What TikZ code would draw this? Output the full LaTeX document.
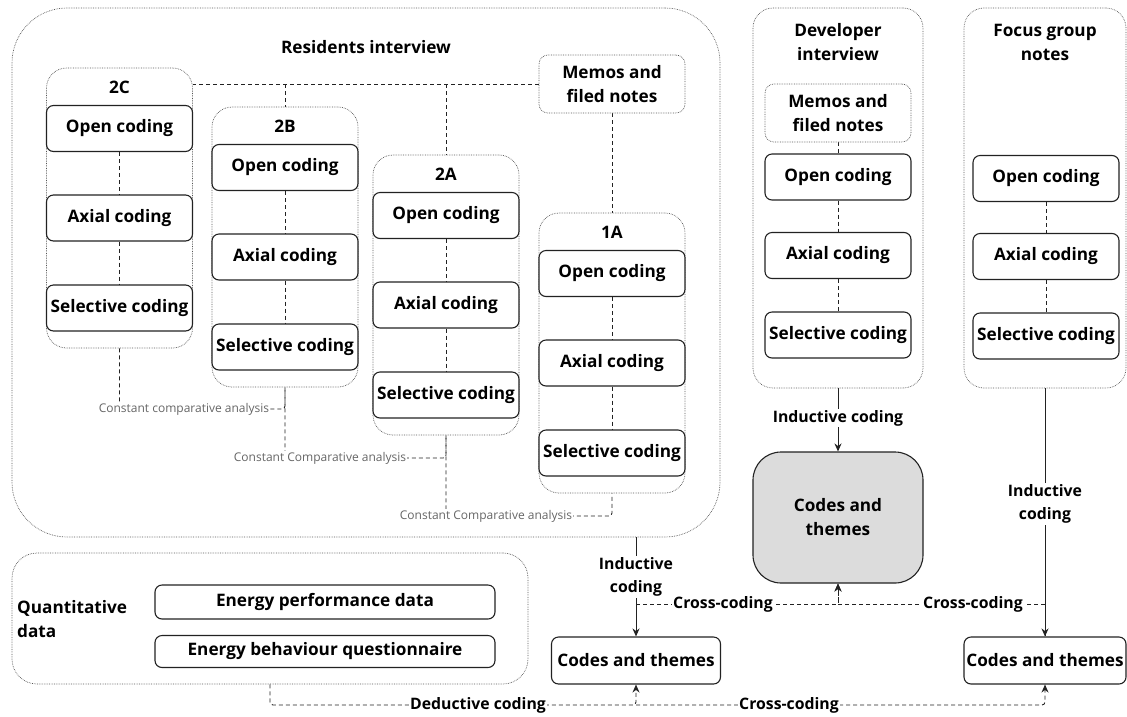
\documentclass[tikz,border=0pt]{standalone}
\usepackage{fontspec}
\setmainfont{Open Sans}
\usetikzlibrary{arrows.meta,calc}
\pgfdeclarelayer{bg}
\pgfsetlayers{bg,main}
\definecolor{grpc}{HTML}{555555}
\definecolor{lnc}{HTML}{222222}
\definecolor{lblc}{HTML}{666666}
\definecolor{greyfill}{HTML}{DCDCDC}
\tikzset{
  bigfont/.style={font=\bfseries\fontsize{17.2}{24}\selectfont},
  grp/.style={draw=grpc, line width=0.7pt, densely dotted, rounded corners=20pt, inner sep=0pt},
  memo/.style={draw=grpc, line width=0.7pt, densely dotted, rounded corners=9pt, fill=white, inner sep=0pt,
    minimum width=146pt, minimum height=58pt, align=center, bigfont},
  box/.style={draw=lnc, line width=1.1pt, rounded corners=7pt, fill=white, inner sep=0pt,
    minimum width=146pt, minimum height=46pt, align=center, bigfont},
  ttl/.style={inner sep=0pt, align=center, bigfont},
  dline/.style={draw=lnc, line width=0.9pt, dash pattern=on 4pt off 3pt},
  sline/.style={draw=lnc, line width=1pt},
  tip/.style={-{Stealth[length=8pt,width=7pt]}},
  lab/.style={fill=white, inner sep=1.5pt, align=center, font=\bfseries\fontsize{15.8}{23}\selectfont},
  cca/.style={fill=white, inner sep=1pt, text=lblc, font=\fontsize{12}{14}\selectfont},
}
\begin{document}
\begin{tikzpicture}[x=1pt,y=-1pt]
\useasboundingbox (0,0) rectangle (1127,716);
% ---------- Residents interview ----------
\node[grp, rounded corners=55pt, minimum width=708pt, minimum height=529pt] (res) at (366,272.5) {};
\node[ttl] (tres) at (366,47) {Residents interview};
\node[memo] (mR) at (612,84) {Memos and\\filed notes};
% 2C
\node[grp, minimum width=146pt, minimum height=280pt] (g2C) at (119.5,208) {};
\node[ttl] (t2C) at (119.5,87) {2C};
\node[box] (o2C) at (119.5,128.5) {Open coding};
\node[box] (a2C) at (119.5,218) {Axial coding};
\node[box] (s2C) at (119.5,308) {Selective coding};
% 2B
\node[grp, minimum width=146pt, minimum height=280pt] (g2B) at (285,247) {};
\node[ttl] (t2B) at (285,126) {2B};
\node[box] (o2B) at (285,167.5) {Open coding};
\node[box] (a2B) at (285,257) {Axial coding};
\node[box] (s2B) at (285,347) {Selective coding};
% 2A
\node[grp, minimum width=146pt, minimum height=280pt] (g2A) at (446,295) {};
\node[ttl] (t2A) at (446,174) {2A};
\node[box] (o2A) at (446,215.5) {Open coding};
\node[box] (a2A) at (446,305) {Axial coding};
\node[box] (s2A) at (446,395) {Selective coding};
% 1A
\node[grp, minimum width=146pt, minimum height=280pt] (g1A) at (612,353) {};
\node[ttl] (t1A) at (612,232) {1A};
\node[box] (o1A) at (612,273.5) {Open coding};
\node[box] (a1A) at (612,363) {Axial coding};
\node[box] (s1A) at (612,453) {Selective coding};
% ---------- Developer interview ----------
\node[grp, minimum width=170pt, minimum height=380pt] (gDev) at (838,198) {};
\node[ttl] (tDev) at (838,42) {Developer\\interview};
\node[memo] (mD) at (838,113) {Memos and\\filed notes};
\node[box] (oD) at (838,177) {Open coding};
\node[box] (aD) at (838,255.5) {Axial coding};
\node[box] (sD) at (838,335) {Selective coding};
% ---------- Focus group notes ----------
\node[grp, minimum width=162pt, minimum height=380pt] (gF) at (1045,198) {};
\node[ttl] (tF) at (1045,42) {Focus group\\notes};
\node[box] (oF) at (1046,178.5) {Open coding};
\node[box] (aF) at (1046,256.5) {Axial coding};
\node[box] (sF) at (1046,336) {Selective coding};
% ---------- Codes and themes ----------
\node[box, fill=greyfill, rounded corners=28pt, minimum width=170pt, minimum height=131pt] (grey) at (838,517.5) {Codes and\\themes};
\node[box, minimum width=169pt, minimum height=47pt] (lc) at (636,660.5) {Codes and themes};
\node[box, minimum width=162pt, minimum height=47pt] (rc) at (1045,660.5) {Codes and themes};
% ---------- Quantitative data ----------
\node[grp, rounded corners=25pt, minimum width=516pt, minimum height=131pt] (qd) at (270,618.5) {};
\node[ttl, align=left, anchor=west] (tq) at (17,619) {Quantitative\\data};
\node[box, minimum width=340pt, minimum height=34pt] (ep) at (325,602) {Energy performance data};
\node[box, minimum width=340pt, minimum height=32pt] (eb) at (325,651.5) {Energy behaviour questionnaire};
% ---------- coordinates ----------
\coordinate (k1) at (285,409);
\coordinate (k2) at (446,458);
\coordinate (k3) at (612,516);
\coordinate (cl) at (636,604);
\coordinate (cr) at (1045,604);
\coordinate (cb) at (636,705);
% ---------- connectors ----------
\begin{pgfonlayer}{bg}
\draw[dline] (mR.west) -- (mR.west -| g2C.east);
\draw[dline] (mR.west -| g2B.north) -- (g2B.north);
\draw[dline] (mR.west -| g2A.north) -- (g2A.north);
\draw[dline] (mR.south) -- (g1A.north);
\foreach \g in {2C,2B,2A,1A,D,F}{
  \draw[dline] (o\g.south) -- (a\g.north);
  \draw[dline] (a\g.south) -- (s\g.north);
}
\draw[dline] (mD.south) -- (oD.north);
\draw[dline, rounded corners=3pt] (g2C.south) |- (k1) -- (g2B.south);
\draw[dline, rounded corners=3pt] (g2B.south) |- (k2) -- (g2A.south);
\draw[dline, rounded corners=3pt] (g2A.south) |- (k3) -- (g1A.south);
\draw[sline, tip] (res.south -| lc.north) -- (lc.north);
\draw[sline, tip] (gDev.south) -- (grey.north);
\draw[sline, tip] (gF.south) -- (rc.north);
\draw[dline, tip] (cl) -| (grey.south);
\draw[dline, tip] (cr) -| (grey.south);
\draw[dline, tip] (cr) -- (rc.south);
\draw[dline, tip, rounded corners=3pt] (qd.south) |- (cb) -- (lc.south);
\draw[dline, tip, rounded corners=3pt] (cb) -| (rc.south);
\end{pgfonlayer}
% ---------- labels ----------
\node[cca] (l1) at (184,409) {Constant comparative analysis};
\node[cca] (l2) at (320,458) {Constant Comparative analysis};
\node[cca] (l3) at (486,516) {Constant Comparative analysis};
\node[lab] (iR) at (636,577) {Inductive\\coding};
\node[lab] (iD) at (838,418) {Inductive coding};
\node[lab] (iF) at (1045,504) {Inductive\\coding};
\node[lab] (x1) at (723,604) {Cross-coding};
\node[lab] (x2) at (973,604) {Cross-coding};
\node[lab] (dc) at (478,705) {Deductive coding};
\node[lab] (x3) at (789,705) {Cross-coding};
\end{tikzpicture}
\end{document}
